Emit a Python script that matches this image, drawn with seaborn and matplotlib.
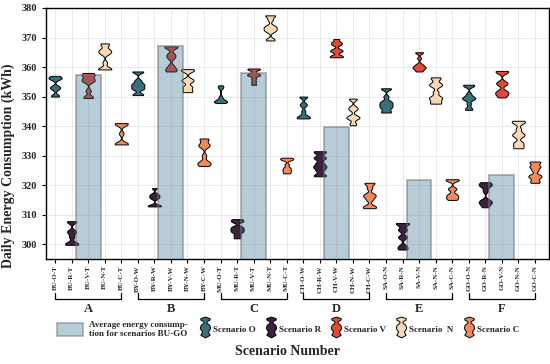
import numpy as np
import pandas as pd
import matplotlib
matplotlib.use("Agg")
import matplotlib.pyplot as plt
import seaborn as sns
from matplotlib.path import Path
from matplotlib.lines import Line2D
from matplotlib.patches import Patch

# categories, grouped by building
groups = ["A", "B", "C", "D", "E", "F"]
prefixes = ["BU", "BY", "MU", "CH", "SA", "GO"]
suffixes = ["T", "W", "T", "W", "N", "N"]
scenarios = ["O", "R", "V", "N", "C"]
scenario_names = ["Scenario O", "Scenario R", "Scenario V", "Scenario  N", "Scenario C"]
palette = ["#36707a", "#3d2240", "#e04a36", "#f6d8b4", "#f08a5c"]

# daily energy samples per scenario (kWh), order O, R, V, N, C
vals_a = [
    [357, 356.5, 356.2, 355.8, 353.5, 353, 352.5, 350.5, 350],
    [307.8, 307.5, 304.5, 304, 302.5, 300.5, 300, 299.8],
    [358, 357.5, 357, 356, 355.5, 355, 352, 350, 349.5],
    [368, 367.5, 366, 365.5, 365, 364.5, 361.5, 359.5, 359.3, 359.2],
    [341, 340.8, 340.5, 337.5, 334.2, 334, 333.8],
]
vals_b = [
    [358.5, 358.3, 355.5, 354.5, 354, 353.5, 352.8, 352.5, 350.8, 350.5],
    [319, 317, 316.5, 316, 315.5, 313.2, 313, 312.8],
    [367, 366.8, 366.6, 364.5, 363.8, 363, 360.5, 359.5, 359, 358.5],
    [359.3, 359, 358.5, 356, 355.5, 355, 353.5, 353, 352, 351.5],
    [335.8, 335.5, 334, 333.5, 333, 330, 328, 327.5, 327, 326.5],
]
vals_c = [
    [353.8, 353.3, 352.8, 350, 349.2, 348.8, 348.5, 348.3, 348.2, 348, 347.8],
    [308.5, 308, 307.5, 306, 305.5, 305, 304.5, 304, 303, 302],
    [359.5, 359.3, 359, 358, 357.5, 357.3, 357, 356, 355, 354],
    [377.5, 377.3, 376, 374, 373.5, 373, 372.5, 372, 369.5, 369],
    [329.3, 329, 328.8, 328.5, 327, 326, 325.5, 325, 324.5, 324],
]
vals_d = [
    [350, 349.8, 347.5, 347, 345, 343.5, 343, 342.8, 342.6],
    [331.5, 331, 329.5, 329, 327.5, 326.5, 326, 325, 323.5, 323],
    [369.5, 368.5, 368, 367.5, 366, 365.5, 365.2, 364, 363.5, 363.3],
    [349.3, 349, 346.5, 346, 345.5, 343.5, 343, 342.8, 342.5, 341, 340.3],
    [320.8, 320.5, 319, 317, 316.5, 316, 315, 313, 312.5, 312.2],
]
vals_e = [
    [352.8, 352.5, 350, 348.5, 348, 347.5, 347, 346.5, 346, 345, 344.6],
    [307.2, 307, 306.8, 305, 304.8, 302.5, 302.3, 299.5, 298.8, 298.2],
    [365, 364.8, 363, 361, 360.5, 360, 359.8, 359.6, 359, 358.5],
    [356.5, 356, 354.5, 354, 353.5, 351.5, 350, 349.5, 349, 348, 347.6],
    [322, 321.8, 321.5, 319, 318.5, 317, 316.5, 316, 315.5, 315],
]
vals_f = [
    [354, 353.8, 353.5, 351, 350, 349.5, 349.3, 349, 347.5, 346, 345.5],
    [321, 320.5, 320, 319.5, 318, 315, 314.5, 314, 313.5, 312.5],
    [358.7, 358.5, 358, 355, 354.5, 354, 352, 351.5, 351, 350.5, 349.7],
    [341.8, 341.5, 341, 339, 337.5, 337, 336.5, 334.5, 334, 333, 332.5],
    [328, 327.5, 326.5, 326, 325, 323.5, 323, 322.5, 321.5, 320.8],
]
all_vals = [vals_a, vals_b, vals_c, vals_d, vals_e, vals_f]

# average consumption bars (drawn at the V scenario of each group)
bar_means = [357.3, 367.0, 358.0, 339.8, 321.7, 323.6]

categories = []
rows = []
for pre, suf, gvals in zip(prefixes, suffixes, all_vals):
    for s, sv in zip(scenarios, gvals):
        cat = f"{pre}-{s}-{suf}"
        categories.append(cat)
        for v in sv:
            rows.append((cat, s, v))
df = pd.DataFrame(rows, columns=["cat", "scen", "val"])
bar_cats = [f"{p}-V-{s}" for p, s in zip(prefixes, suffixes)]

sns.set_style("whitegrid")
plt.rcParams["font.family"] = ["Liberation Serif", "DejaVu Serif"]

fig = plt.figure(figsize=(5.5, 3.64), dpi=100)
ax = fig.add_axes([0.0836, 0.2885, 0.9145, 0.6896])

sns.barplot(x=bar_cats, y=bar_means, order=categories, width=1.5, ax=ax)
bars = list(ax.patches)

sns.violinplot(data=df, x="cat", y="val", hue="scen", order=categories,
               hue_order=scenarios, palette=palette, dodge=False, cut=0,
               inner=None, bw_adjust=0.3, density_norm="width", width=0.8,
               linewidth=0.7, linecolor="black", saturation=1, legend=False,
               ax=ax)
for c in ax.collections:
    c.set_zorder(2)
bar_face = (0.19, 0.44, 0.57, 0.35)
bar_edge = (0.45, 0.45, 0.45, 0.55)
for b in bars:
    b.set_facecolor(bar_face)
    b.set_edgecolor(bar_edge)
    b.set_linewidth(1.3)
    b.set_zorder(3)

ax.set_xlim(-0.55, 29.85)
ax.set_ylim(295, 380)
ax.set_yticks(range(300, 381, 10))
ax.grid(True, color="#e6e6e6", linewidth=0.6)
ax.set_axisbelow(True)
for sp in ax.spines.values():
    sp.set_color("black")
    sp.set_linewidth(1.0)
ax.tick_params(bottom=True, left=True, length=3, width=0.8, color="black")
ax.tick_params(axis="x", pad=1.5)
ax.set_xticks(range(len(categories)))
ax.set_xticklabels(categories, rotation=90, fontsize=5.0, fontweight="bold")
for t in ax.get_yticklabels():
    t.set_fontsize(7.5)
    t.set_fontweight("bold")
ax.set_xlabel("")
ax.set_ylabel("Daily Energy Consumption (kWh)", fontsize=10, fontweight="bold")
ax.yaxis.set_label_coords(-0.062, 0.37)

# group brackets below the tick labels
trans = ax.get_xaxis_transform()
for i, g in enumerate(groups):
    x0, x1 = i * 5, i * 5 + 4
    ax.plot([x0, x0, x1, x1], [-0.135, -0.158, -0.158, -0.135], color="black",
            lw=0.9, transform=trans, clip_on=False)
    ax.text((x0 + x1) / 2, -0.2, g, transform=trans, ha="center", va="center",
            fontsize=9, fontweight="bold")

fig.text(0.523, 0.033, "Scenario Number", ha="center", va="center",
         fontsize=10, fontweight="bold")

# legend with violin-like icons
half = [(0, 1.0), (0.45, 0.85), (0.45, 0.72), (0.15, 0.55), (0.15, 0.42),
        (0.42, 0.2), (0.5, -0.1), (0.28, -0.45), (0.45, -0.75), (0, -1.0)]
verts = half + [(-x, y) for x, y in reversed(half[1:-1])] + [half[0]]
codes = [Path.MOVETO] + [Path.LINETO] * (len(verts) - 2) + [Path.CLOSEPOLY]
vpath = Path(verts, codes)

prop = {"family": "Liberation Serif", "weight": "bold", "size": 6.5}
bar_handle = Patch(facecolor=bar_face, edgecolor=bar_edge, linewidth=1.2)
fig.legend([bar_handle], ["Average energy consump-\ntion for scenarios BU-GO"],
           loc="center left", bbox_to_anchor=(0.088, 0.095), frameon=False,
           prop=prop, handlelength=2.9, handleheight=1.7, handletextpad=0.7)

handles = []
for col in palette:
    handles.append(Line2D([], [], linestyle="none", marker=vpath,
                          markersize=15, markerfacecolor=col,
                          markeredgecolor="black", markeredgewidth=0.7))
fig.legend(handles, scenario_names, loc="center left",
           bbox_to_anchor=(0.352, 0.095), ncol=5, frameon=False, prop=prop,
           handlelength=0.8, handleheight=2.0, columnspacing=1.25,
           handletextpad=0.5)

fig.savefig("out.png", dpi=100)
